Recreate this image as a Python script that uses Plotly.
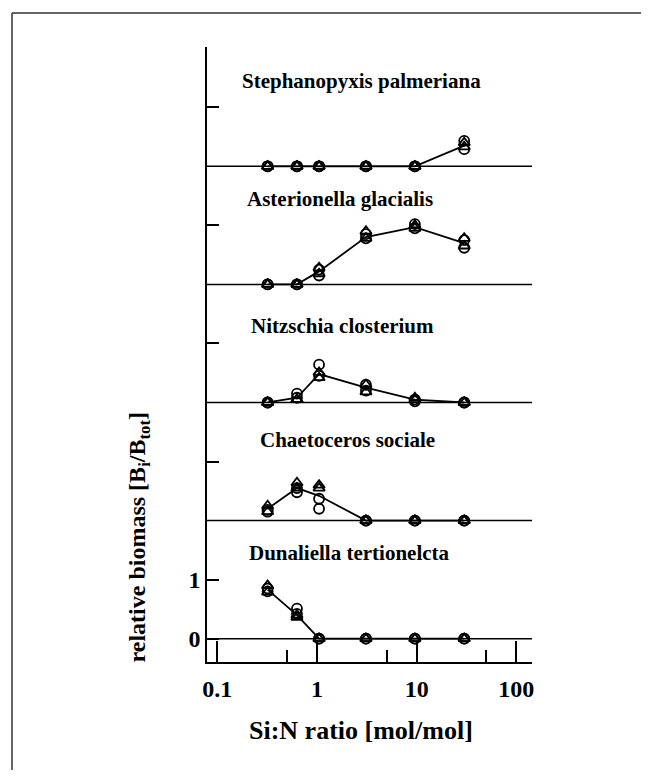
import plotly.graph_objects as go

# ---- data ----
si_n_ratio = [0.32, 0.63, 1.05, 3.1, 9.6, 30]

species = ["Dunaliella tertionelcta", "Chaetoceros sociale", "Nitzschia closterium",
           "Asterionella glacialis", "Stephanopyxis palmeriana"]
offsets = [0, 2, 4, 6, 8]

mean_vals = {
    "Dunaliella tertionelcta": [0.83, 0.40, 0, 0, 0, 0],
    "Chaetoceros sociale": [0.20, 0.55, 0.42, 0, 0, 0],
    "Nitzschia closterium": [0, 0.08, 0.48, 0.25, 0.05, 0],
    "Asterionella glacialis": [0, 0, 0.22, 0.80, 0.97, 0.70],
    "Stephanopyxis palmeriana": [0, 0, 0, 0, 0, 0.35],
}
circle_rep1 = {
    "Dunaliella tertionelcta": [0.85, 0.51, 0, 0, 0, 0],
    "Chaetoceros sociale": [0.18, 0.48, 0.37, 0, 0, 0],
    "Nitzschia closterium": [0, 0.15, 0.64, 0.30, 0.05, 0],
    "Asterionella glacialis": [0, 0, 0.25, 0.85, 1.02, 0.75],
    "Stephanopyxis palmeriana": [0, 0, 0, 0, 0, 0.43],
}
circle_rep2 = {
    "Dunaliella tertionelcta": [0.80, 0.42, 0, 0, 0, 0],
    "Chaetoceros sociale": [0.15, 0.55, 0.20, 0, 0, 0],
    "Nitzschia closterium": [0, 0.08, 0.45, 0.20, 0.02, 0],
    "Asterionella glacialis": [0, 0, 0.15, 0.78, 0.95, 0.62],
    "Stephanopyxis palmeriana": [0, 0, 0, 0, 0, 0.29],
}
triangle_rep1 = {
    "Dunaliella tertionelcta": [0.90, 0.40, 0, 0, 0, 0],
    "Chaetoceros sociale": [0.25, 0.64, 0.60, 0, 0, 0],
    "Nitzschia closterium": [0, 0.05, 0.51, 0.30, 0.08, 0],
    "Asterionella glacialis": [0, 0, 0.28, 0.90, 1.00, 0.78],
    "Stephanopyxis palmeriana": [0, 0, 0, 0, 0, 0.40],
}
triangle_rep2 = {
    "Dunaliella tertionelcta": [0.79, 0.36, 0, 0, 0, 0],
    "Chaetoceros sociale": [0.15, 0.55, 0.55, 0, 0, 0],
    "Nitzschia closterium": [0, 0.05, 0.42, 0.18, 0.05, 0],
    "Asterionella glacialis": [0, 0, 0.18, 0.78, 0.95, 0.65],
    "Stephanopyxis palmeriana": [0, 0, 0, 0, 0, 0.33],
}

x_tickvals = [0.1, 1, 10, 100]
x_ticktext = ["0.1", "1", "10", "100"]
x_minor_ticks = [0.5, 5, 50]
y_tickvals = [0, 1]
y_ticktext = ["0", "1"]
y_minor_ticks = [3, 5, 7, 9]

# label layout (log10 x position of left edge, height above baseline)
label_xlog = [-0.702, -0.592, -0.682, -0.722, -0.772]
label_dy = [1.45, 1.36, 1.30, 1.44, 1.45]

FONT = "Liberation Serif"

fig = go.Figure()

for sp, off in zip(species, offsets):
    fig.add_trace(go.Scatter(
        x=si_n_ratio, y=[v + off for v in mean_vals[sp]], mode="lines",
        line=dict(color="black", width=1.8), showlegend=False, hoverinfo="skip"))
    for reps, sym in ((circle_rep1, "circle-open"), (circle_rep2, "circle-open"),
                      (triangle_rep1, "triangle-up-open"), (triangle_rep2, "triangle-up-open")):
        fig.add_trace(go.Scatter(
            x=si_n_ratio, y=[v + off for v in reps[sp]], mode="markers",
            marker=dict(symbol=sym, size=10, color="black", line=dict(width=1.8, color="black")),
            showlegend=False))

shapes = []
for off in offsets:
    shapes.append(dict(type="line", xref="x domain", yref="y", x0=0, x1=1, y0=off, y1=off,
                       line=dict(color="black", width=1.5), layer="below"))
# page frame (only top and left edges visible)
shapes.append(dict(type="line", xref="paper", yref="paper", x0=-0.6, x1=1.6, y0=1.0553, y1=1.0553,
                   line=dict(color="#333333", width=1.5)))
shapes.append(dict(type="line", xref="paper", yref="paper", x0=-0.6, x1=-0.6, y0=-0.4, y1=1.0553,
                   line=dict(color="#333333", width=1.5)))

annotations = []
for sp, off, xl, dy in zip(species, offsets, label_xlog, label_dy):
    annotations.append(dict(x=xl, y=off + dy, xref="x", yref="y", text=sp, showarrow=False,
                            xanchor="left", yanchor="middle",
                            font=dict(family=FONT, size=21, color="black", weight="bold")))
annotations.append(dict(x=-0.209, y=0.2027, xref="paper", yref="paper",
                        text="relative biomass [B<sub>i</sub>/B<sub>tot</sub>]", textangle=-90,
                        showarrow=False, xanchor="center", yanchor="middle",
                        font=dict(family=FONT, size=24, color="black", weight="bold")))
annotations.append(dict(x=0.474, y=-0.111, xref="paper", yref="paper",
                        text="Si:N ratio [mol/mol]", showarrow=False,
                        xanchor="center", yanchor="middle",
                        font=dict(family=FONT, size=26, color="black", weight="bold")))

fig.update_layout(
    width=633, height=762,
    margin=dict(l=199, r=109, t=39, b=108),
    paper_bgcolor="white", plot_bgcolor="white",
    shapes=shapes, annotations=annotations,
    xaxis=dict(type="log", range=[-1.103, 2.157], showline=True, linecolor="black", linewidth=1.5,
               showgrid=False, zeroline=False, ticks="inside", ticklen=21, tickwidth=1.5,
               tickcolor="black", tickvals=x_tickvals, ticktext=x_ticktext,
               tickfont=dict(family=FONT, size=24, color="black", weight="bold"),
               ticklabelstandoff=4,
               minor=dict(tickvals=x_minor_ticks, ticks="inside", ticklen=12, tickwidth=1.5,
                          tickcolor="black", showgrid=False)),
    yaxis=dict(range=[-0.395, 10.02], showline=True, linecolor="black", linewidth=1.5,
               showgrid=False, zeroline=False, ticks="inside", ticklen=12, tickwidth=1.5,
               tickcolor="black", tickvals=y_tickvals, ticktext=y_ticktext,
               tickfont=dict(family=FONT, size=24, color="black", weight="bold"),
               minor=dict(tickvals=y_minor_ticks, ticks="inside", ticklen=12, tickwidth=1.5,
                          tickcolor="black", showgrid=False)),
)

fig.write_html("out.html")
